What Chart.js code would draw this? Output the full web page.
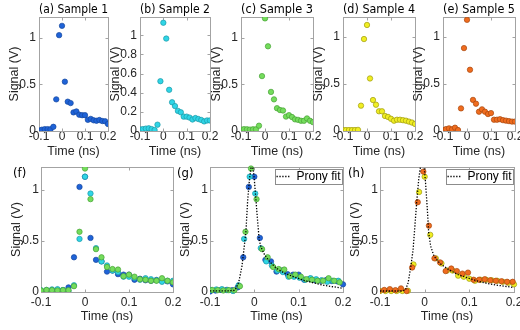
<!DOCTYPE html>
<html>
<head>
<meta charset="utf-8">
<script src="https://cdn.jsdelivr.net/npm/chart.js@4.4.1/dist/chart.umd.min.js"></script>
<style>
  html, body { margin: 0; padding: 0; background: #fff; }
  #fig { position: relative; width: 520px; height: 330px; overflow: hidden; }
  #fig canvas { position: absolute; }
</style>
</head>
<body>
<div id="fig"></div>
<script>
// sample times (ns)
const time = [-0.1, -0.0875, -0.075, -0.0625, -0.05, -0.0375, -0.025, -0.0125, 0, 0.0125, 0.025, 0.0375,
  0.05, 0.0625, 0.075, 0.0875, 0.1, 0.1125, 0.125, 0.1375, 0.15, 0.1625, 0.175, 0.1875, 0.2];

// measured signal (V), one array per sample
const sample1 = [0.005, 0.014, 0.02, 0.02, 0.018, 0.045, 0.34, 1.03, 1.13, 0.53, 0.315, 0.30,
  0.20, 0.21, 0.175, 0.17, 0.17, 0.12, 0.13, 0.115, 0.11, 0.118, 0.107, 0.104, 0.075];
const sample2 = [0.017, 0.02, 0.025, 0.028, 0.02, 0.01, 0.066, 0.52, 1.13, 0.965, 0.43, 0.30,
  0.26, 0.21, 0.195, 0.15, 0.15, 0.14, 0.12, 0.135, 0.125, 0.115, 0.10, 0.11, 0.11];
const sample3 = [0.015, 0.02, 0.018, 0.015, 0.018, 0.018, 0.057, 0.59, 1.21, 0.91, 0.42, 0.34,
  0.245, 0.225, 0.22, 0.155, 0.17, 0.15, 0.125, 0.12, 0.11, 0.11, 0.135, 0.11, 0.095];
const sample4 = [0.01, 0.01, 0.01, 0.01, 0.01, 0.012, 0.27, 0.98, 1.13, 0.56, 0.33, 0.28,
  0.21, 0.21, 0.16, 0.15, 0.13, 0.11, 0.12, 0.12, 0.115, 0.11, 0.10, 0.09, 0.075];
const sample5 = [0.01, 0.02, 0.028, 0.018, 0.035, 0.01, 0.24, 0.88, 1.18, 0.65, 0.33, 0.29,
  0.205, 0.23, 0.205, 0.18, 0.19, 0.12, 0.12, 0.125, 0.115, 0.11, 0.105, 0.10, 0.10];

// time alignment offsets (ns) used in the overlay panels (g) and (h)
const shiftG = [0, -0.0105, -0.0075];
const shiftH = [0, -0.003];

// Prony fit curves
const fitTimeG = [-0.1, -0.06, -0.045, -0.041, -0.035, -0.028, -0.024, -0.019, -0.015, -0.011, -0.0075,
  -0.005, -0.0025, 0.0, 0.0037, 0.0075, 0.011, 0.015, 0.0225, 0.034, 0.049, 0.067, 0.09, 0.112,
  0.135, 0.157, 0.18, 0.2];
const fitSignalG = [0.012, 0.012, 0.015, 0.04, 0.10, 0.25, 0.40, 0.59, 0.90, 1.10, 1.22,
  1.24, 1.20, 1.10, 0.90, 0.69, 0.51, 0.44, 0.37, 0.30, 0.235, 0.186, 0.147, 0.114,
  0.088, 0.065, 0.05, 0.036];
const fitTimeH = [-0.1, -0.05, -0.043, -0.037, -0.031, -0.026, -0.022, -0.018, -0.0134, -0.009, -0.005,
  -0.0015, 0.002, 0.006, 0.009, 0.0134, 0.021, 0.034, 0.052, 0.075, 0.097, 0.12, 0.142,
  0.165, 0.19, 0.2];
const fitSignalH = [0.01, 0.01, 0.02, 0.09, 0.25, 0.41, 0.64, 0.87, 1.10, 1.24, 1.26,
  1.24, 1.07, 0.81, 0.58, 0.45, 0.35, 0.28, 0.225, 0.17, 0.137, 0.105, 0.082,
  0.065, 0.05, 0.043];

// tick labels
const xTicks = [-0.1, 0, 0.1, 0.2];
const yTicksCoarse = [0, 0.5, 1];
const yTicksFine = [0, 0.2, 0.4, 0.6, 0.8, 1];

const colors = {
  blue:   ['#1f63d8', '#15479e'],
  cyan:   ['#2fd5e6', '#1c9aa8'],
  green:  ['#74dc5c', '#47a236'],
  yellow: ['#f0ee22', '#9f9b12'],
  orange: ['#f06c1e', '#a8480f']
};

const sansFamily = "'Liberation Sans', Arial, Helvetica, sans-serif";
const titleFamily = "'DejaVu Sans Condensed', 'Liberation Sans', sans-serif";
const inkColor = '#262626';
const fitDash = [1.3, 1.6];

const framePlugin = {
  id: 'frame',
  beforeDatasetsDraw(chart) {
    const { ctx, chartArea: a, scales } = chart;
    const l = Math.round(a.left) + 0.5, t = Math.round(a.top) + 0.5;
    const r = Math.round(a.right) + 0.5, b = Math.round(a.bottom) + 0.5;
    ctx.save();
    ctx.strokeStyle = '#a3a3a3';
    ctx.lineWidth = 1;
    ctx.strokeRect(l, t, r - l, b - t);
    ctx.beginPath();
    for (const tk of scales.x.ticks) {
      const px = Math.round(scales.x.getPixelForValue(tk.value)) + 0.5;
      ctx.moveTo(px, b); ctx.lineTo(px, b - 3);
      ctx.moveTo(px, t); ctx.lineTo(px, t + 3);
    }
    for (const tk of scales.y.ticks) {
      const py = Math.round(scales.y.getPixelForValue(tk.value)) + 0.5;
      ctx.moveTo(l, py); ctx.lineTo(l + 3, py);
      ctx.moveTo(r, py); ctx.lineTo(r - 3, py);
    }
    ctx.stroke();
    ctx.restore();
  }
};

// panel letter for the bottom row; moves the fit legend into the top right corner and boxes it
const panelPlugin = {
  id: 'panelBits',
  afterLayout(chart, args, opts) {
    const lg = chart.legend;
    chart.$legendBox = null;
    if (!opts.legendInside || !lg || !lg.options.display || !lg.legendHitBoxes.length) return;
    const a = chart.chartArea;
    const hb = lg.legendHitBoxes[0];
    const pad = lg.options.labels.padding;
    const li = opts.legendInside;
    const w = hb.width + 2 * li.px, h = hb.height + 2 * li.py;
    const boxLeft = a.right - li.dx - w, boxTop = a.top + li.dy;
    lg.left = boxLeft + li.px - pad;
    lg.top = boxTop + li.py - pad;
    lg.right = lg.left + lg.width;
    lg.bottom = lg.top + lg.height;
    chart.$legendBox = { x: boxLeft, y: boxTop, w: w, h: h };
  },
  afterDraw(chart, args, opts) {
    const { ctx, chartArea: a } = chart;
    ctx.save();
    const bx = chart.$legendBox;
    if (bx) {
      ctx.strokeStyle = '#8c8c8c';
      ctx.lineWidth = 1;
      ctx.strokeRect(Math.round(bx.x) + 0.5, Math.round(bx.y) + 0.5, Math.round(bx.w), Math.round(bx.h));
    }
    if (opts.letter) {
      ctx.fillStyle = '#000';
      ctx.font = '13px ' + titleFamily;
      ctx.textAlign = 'left';
      ctx.textBaseline = 'middle';
      ctx.fillText(opts.letter, a.left + opts.letterDx, a.top + 7);
    }
    ctx.restore();
  }
};

function pointSet(label, xs, ys, color, order, clip) {
  return {
    label: label,
    data: xs.map((x, i) => ({ x: x, y: ys[i] })),
    backgroundColor: color[0],
    borderColor: color[1],
    borderWidth: 0.7,
    pointRadius: 2.7,
    showLine: false,
    order: order,
    clip: clip
  };
}

function fitSet(xs, ys) {
  return {
    label: 'Prony fit',
    data: xs.map((x, i) => ({ x: x, y: ys[i] })),
    borderColor: '#000',
    backgroundColor: '#000',
    borderWidth: 1.3,
    borderDash: fitDash,
    pointRadius: 0,
    showLine: true,
    tension: 0,
    order: 0
  };
}

const sideClip = { left: 0, top: 4, right: 4, bottom: 4 };

const panels = [
  { id: 'a', l: 39, r: 108, row: 0, title: '(a) Sample 1', ymax: 1.225, yTicks: yTicksCoarse,
    datasets: [pointSet('Sample 1', time, sample1, colors.blue, 1)] },
  { id: 'b', l: 140, r: 210, row: 0, title: '(b) Sample 2', ymax: 1.19, yTicks: yTicksFine,
    datasets: [pointSet('Sample 2', time, sample2, colors.cyan, 1)] },
  { id: 'c', l: 241, r: 313, row: 0, title: '(c) Sample 3', ymax: 1.225, yTicks: yTicksCoarse,
    datasets: [pointSet('Sample 3', time, sample3, colors.green, 1)] },
  { id: 'd', l: 343, r: 415, row: 0, title: '(d) Sample 4', ymax: 1.215, yTicks: yTicksCoarse,
    datasets: [pointSet('Sample 4', time, sample4, colors.yellow, 1)] },
  { id: 'e', l: 443, r: 515, row: 0, title: '(e) Sample 5', ymax: 1.21, yTicks: yTicksCoarse,
    datasets: [pointSet('Sample 5', time, sample5, colors.orange, 1)] },
  { id: 'f', l: 41, r: 173, row: 1, letter: '(f)', letterDx: -28, ymax: 1.225, yTicks: yTicksCoarse,
    datasets: [
      pointSet('Sample 1', time, sample1, colors.blue, 3),
      pointSet('Sample 2', time, sample2, colors.cyan, 2),
      pointSet('Sample 3', time, sample3, colors.green, 1)
    ] },
  { id: 'g', l: 210, r: 343, row: 1, letter: '(g)', letterDx: -33, ymax: 1.225, yTicks: yTicksCoarse, fit: true,
    datasets: [
      pointSet('Sample 1', time.map(t => t + shiftG[0]), sample1, colors.blue, 3, sideClip),
      pointSet('Sample 2', time.map(t => t + shiftG[1]), sample2, colors.cyan, 2, sideClip),
      pointSet('Sample 3', time.map(t => t + shiftG[2]), sample3, colors.green, 1, sideClip),
      fitSet(fitTimeG, fitSignalG)
    ] },
  { id: 'h', l: 380, r: 514, row: 1, letter: '(h)', letterDx: -32, ymax: 1.225, yTicks: yTicksCoarse, fit: true,
    datasets: [
      pointSet('Sample 4', time.map(t => t + shiftH[0]), sample4, colors.yellow, 2, sideClip),
      pointSet('Sample 5', time.map(t => t + shiftH[1]), sample5, colors.orange, 1, sideClip),
      fitSet(fitTimeH, fitSignalH)
    ] }
];

// row geometry: canvas top, canvas height, plot box bottom
const rows = [
  { top: 0, height: 165, boxBottom: 131, xPad: 0, yPad: 3 },
  { top: 150, height: 180, boxBottom: 292, xPad: 5, yPad: 2 }
];

const fig = document.getElementById('fig');
const yAxisW = 40, padRight = 14;

for (const p of panels) {
  const row = rows[p.row];
  const cv = document.createElement('canvas');
  const W = p.r - p.l + yAxisW + padRight;
  cv.width = W; cv.height = row.height;
  cv.style.width = W + 'px'; cv.style.height = row.height + 'px';
  cv.style.left = (p.l - yAxisW) + 'px';
  cv.style.top = row.top + 'px';
  fig.appendChild(cv);
  const xAxisH = row.height - (row.boxBottom - row.top);

  new Chart(cv, {
    type: 'scatter',
    data: { datasets: p.datasets },
    options: {
      responsive: false,
      animation: false,
      events: [],
      layout: { padding: { left: 0, right: padRight, top: p.row === 0 ? 0 : 17, bottom: 0 } },
      scales: {
        x: {
          type: 'linear', min: -0.1, max: 0.2,
          afterBuildTicks: s => { s.ticks = xTicks.map(v => ({ value: v })); },
          afterFit: s => { s.height = xAxisH; },
          grid: { display: false, drawTicks: false },
          border: { display: false },
          ticks: { callback: v => String(v), autoSkip: false, maxRotation: 0, padding: row.xPad,
            color: inkColor, font: { family: sansFamily, size: 12, lineHeight: 1 } },
          title: { display: true, text: 'Time (ns)', color: inkColor, padding: { top: 0, bottom: 5.8 },
            font: { family: sansFamily, size: 12.5, lineHeight: 1.2 } }
        },
        y: {
          type: 'linear', min: 0, max: p.ymax,
          afterBuildTicks: s => { s.ticks = p.yTicks.map(v => ({ value: v })); },
          afterFit: s => { s.width = yAxisW; },
          grid: { display: false, drawTicks: false },
          border: { display: false },
          ticks: { callback: v => String(v), autoSkip: false, padding: row.yPad,
            color: inkColor, font: { family: sansFamily, size: 12, lineHeight: 1 } },
          title: { display: true, text: 'Signal (V)', color: inkColor, padding: { top: 8.5, bottom: 0 },
            font: { family: sansFamily, size: 12.5, lineHeight: 1.2 } }
        }
      },
      plugins: {
        title: {
          display: !!p.title, text: p.title || '', align: 'start', fullSize: false, color: '#000',
          font: { family: titleFamily, size: 13, weight: 'normal', lineHeight: 1 },
          padding: { top: 3, bottom: 1 }
        },
        legend: {
          display: !!p.fit,
          position: 'chartArea',
          align: 'start',
          labels: {
            generateLabels: chart => Chart.defaults.plugins.legend.labels.generateLabels(chart)
              .filter(it => it.text === 'Prony fit')
              .map(it => Object.assign(it, { lineDash: fitDash, lineWidth: 1.3, strokeStyle: '#000', pointStyle: 'line' })),
            usePointStyle: true, pointStyle: 'line', pointStyleWidth: 14, boxHeight: 12,
            padding: 2, color: '#000', font: { family: sansFamily, size: 12 }
          }
        },
        tooltip: { enabled: false },
        panelBits: { letter: p.letter, letterDx: p.letterDx, legendInside: p.fit ? { dx: 1, dy: 2, px: 1.5, py: 1.5 } : null }
      }
    },
    plugins: [framePlugin, panelPlugin]
  });
}
</script>
</body>
</html>
